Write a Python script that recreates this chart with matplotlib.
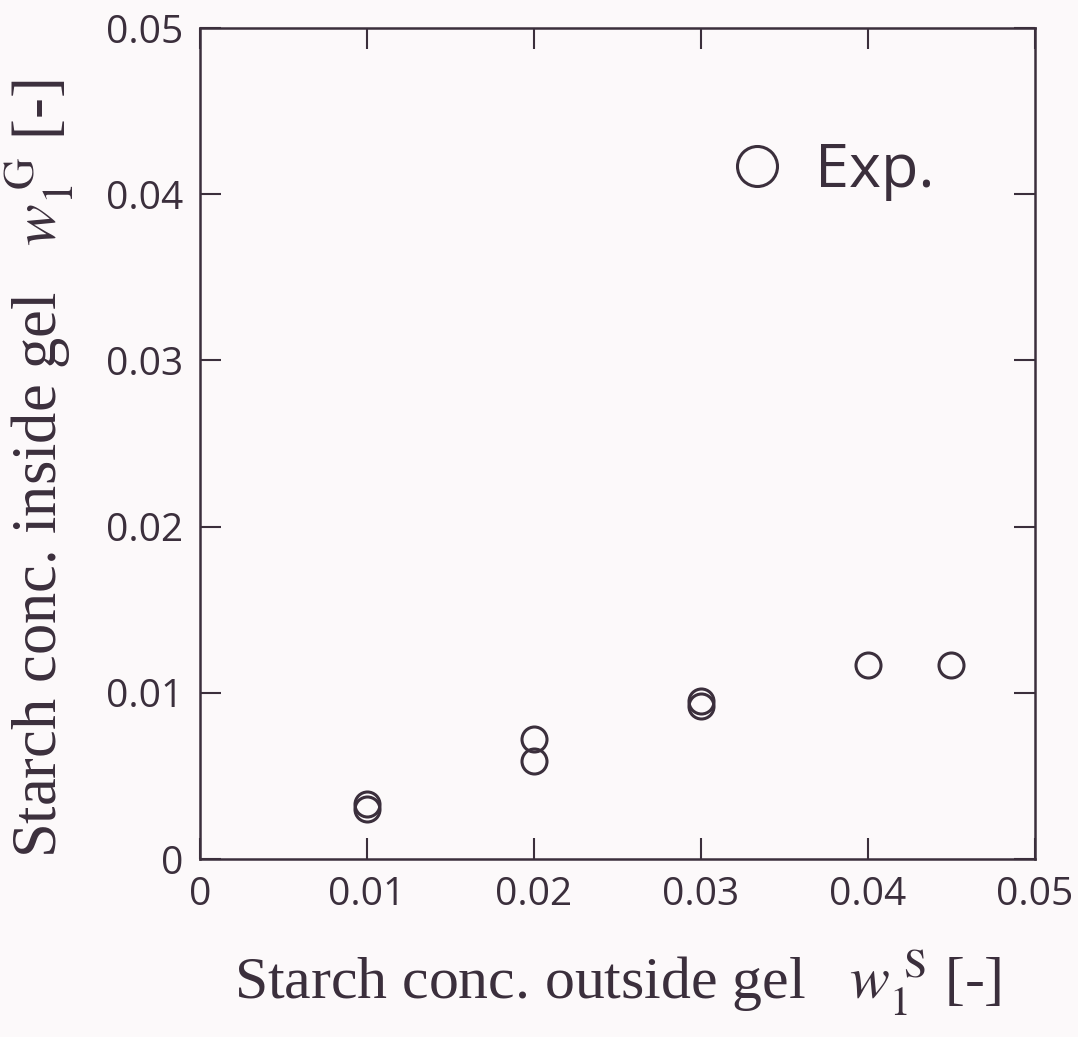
import matplotlib
matplotlib.use("Agg")
import matplotlib.pyplot as plt

# starch concentration outside the gel [-]
w_out = [0.010, 0.010, 0.020, 0.020, 0.030, 0.030, 0.040, 0.045]
# starch concentration inside the gel [-]
w_in = [0.0030, 0.0033, 0.0059, 0.0072, 0.0092, 0.0095, 0.0117, 0.0117]

ticks = [0, 0.01, 0.02, 0.03, 0.04, 0.05]
tick_labels = ["0", "0.01", "0.02", "0.03", "0.04", "0.05"]

ink = "#3b2f3c"
plt.rcParams["mathtext.fontset"] = "stix"

fig = plt.figure(figsize=(10.78, 10.37), dpi=100, facecolor="#fcf9fa")
ax = fig.add_axes([0.1855, 0.1716, 0.7746, 0.8013])
ax.set_facecolor("#fcf9fa")

ax.plot(w_out, w_in, "o", ms=18, mfc="none", mec=ink, mew=2.2,
        linestyle="none", label="Exp.")

ax.set_xlim(0, 0.05)
ax.set_ylim(0, 0.05)
ax.set_xticks(ticks)
ax.set_yticks(ticks)
ax.set_xticklabels(tick_labels, family="Open Sans", fontsize=28, color=ink)
ax.set_yticklabels(tick_labels, family="Open Sans", fontsize=28, color=ink)
ax.tick_params(direction="in", length=15, width=1.5, color=ink,
               top=True, right=True, pad=12)
for s in ax.spines.values():
    s.set_linewidth(1.8)
    s.set_color(ink)

ax.set_xlabel(r"Starch conc. outside gel   $w_{\mathrm{1}}^{\ \mathrm{S}}$ [-]",
              family="Liberation Serif", fontsize=43, color=ink, labelpad=24)
ax.set_ylabel(r"Starch conc. inside gel   $w_{\mathrm{1}}^{\ \mathrm{G}}$ [-]",
              family="Liberation Serif", fontsize=45, color=ink)
ax.yaxis.set_label_coords(-0.148, 0.47)

leg = ax.legend(loc="upper right", bbox_to_anchor=(0.945, 0.93), frameon=False,
                markerscale=1.6, handletextpad=0.45, handlelength=1.0,
                prop={"family": "Open Sans", "size": 44})
for t in leg.get_texts():
    t.set_color(ink)

fig.savefig("out.png", dpi=100, facecolor=fig.get_facecolor())
